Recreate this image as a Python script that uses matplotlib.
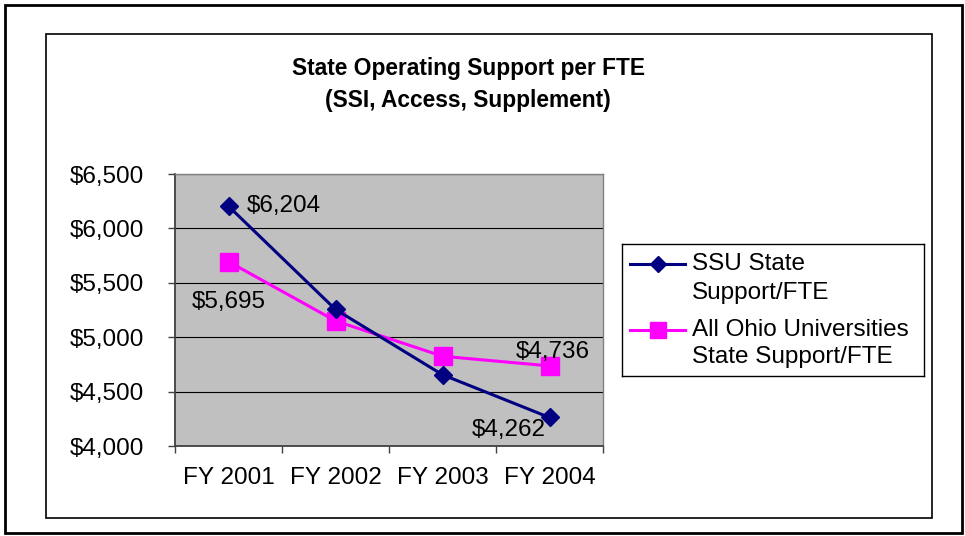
import matplotlib
matplotlib.use('Agg')
import matplotlib.pyplot as plt
from matplotlib.patches import Rectangle
from matplotlib.lines import Line2D

plt.rcParams['font.family'] = ['Liberation Sans', 'DejaVu Sans']

# data
years = ['FY 2001', 'FY 2002', 'FY 2003', 'FY 2004']
ssu = [6204, 5255, 4655, 4262]
ohio = [5695, 5150, 4825, 4736]
ssu_name = ['SSU State', 'Support/FTE']
ohio_name = ['All Ohio Universities', 'State Support/FTE']
yticks = [4000, 4500, 5000, 5500, 6000, 6500]

NAVY = '#000080'
MAGENTA = '#FF00FF'
W, H = 965, 536
FS = 17.5

fig = plt.figure(figsize=(W / 100, H / 100), dpi=100)

def fx(px):
    return px / W

def fy(py):
    return 1 - py / H

# borders
fig.patches.append(Rectangle((fx(5), fy(533)), fx(957), 528 / H, transform=fig.transFigure,
                             fill=False, ec='#000000', lw=2.0))
fig.patches.append(Rectangle((fx(46), fy(518)), fx(886), 484 / H, transform=fig.transFigure,
                             fill=False, ec='#000000', lw=1.2))

ax = fig.add_axes([fx(175), fy(446), fx(428), 272 / H])
ax.set_facecolor('#C0C0C0')
x = list(range(len(years)))
ax.plot(x, ssu, color=NAVY, lw=2.2, marker='D', ms=9.5, mfc=NAVY, mec=NAVY, zorder=4)
ax.plot(x, ohio, color=MAGENTA, lw=2.2, marker='s', ms=12.5, mfc=MAGENTA, mec=MAGENTA, zorder=3)

ax.set_xlim(-0.5, len(years) - 0.5)
ax.set_ylim(4000, 6500)
ax.set_yticks(yticks)
ax.set_yticklabels(['${:,}'.format(v) for v in yticks], fontsize=FS)
ax.set_xticks([i - 0.5 for i in range(len(years) + 1)])
ax.set_xticklabels([])
ax.set_xticks(x, minor=True)
ax.set_xticklabels(years, minor=True, fontsize=FS)
ax.tick_params(axis='x', which='major', direction='out', length=5, width=1, color='#404040')
ax.tick_params(axis='x', which='minor', length=0, pad=15)
ax.tick_params(axis='y', direction='out', length=5, width=1, color='#404040', pad=17)
ax.yaxis.grid(True, color='#000000', lw=0.8)
ax.set_axisbelow(True)
for s in ['left', 'bottom']:
    ax.spines[s].set_color('#404040')
    ax.spines[s].set_linewidth(1.3)
for s in ['top', 'right']:
    ax.spines[s].set_color('#808080')
    ax.spines[s].set_linewidth(1.0)

# data labels
lab = dict(fontsize=FS, textcoords='offset points', va='center')
ax.annotate('${:,}'.format(ssu[0]), (x[0], ssu[0]), xytext=(13, 0), ha='left', **lab)
ax.annotate('${:,}'.format(ohio[0]), (x[0], ohio[0]), xytext=(0, -29), ha='center', **lab)
ax.annotate('${:,}'.format(ohio[3]), (x[3], ohio[3]), xytext=(2, 10), ha='center', **lab)
ax.annotate('${:,}'.format(ssu[3]), (x[3], ssu[3]), xytext=(-29, -9), ha='center', **lab)

# title
fig.text(fx(468), fy(68), 'State Operating Support per FTE', ha='center', va='center',
         fontsize=16.4, fontweight='bold')
fig.text(fx(468), fy(100), '(SSI, Access, Supplement)', ha='center', va='center',
         fontsize=16.4, fontweight='bold')

# legend
lg = fig.add_axes([fx(622), fy(376), fx(302), 132 / H])
lg.set_xlim(0, 302)
lg.set_ylim(132, 0)
lg.set_xticks([])
lg.set_yticks([])
for s in lg.spines.values():
    s.set_linewidth(1.0)
    s.set_color('#000000')
lg.add_line(Line2D([8, 63], [20, 20], color=NAVY, lw=2.2))
lg.plot([35.5], [20], marker='D', ms=8.5, color=NAVY)
lg.add_line(Line2D([8, 63], [86, 86], color=MAGENTA, lw=2.2))
lg.plot([35.5], [86], marker='s', ms=11, color=MAGENTA)
lg.text(70, 20, ssu_name[0], fontsize=FS, va='center')
lg.text(70, 49, ssu_name[1], fontsize=FS, va='center')
lg.text(70, 86, ohio_name[0], fontsize=FS, va='center')
lg.text(70, 113, ohio_name[1], fontsize=FS, va='center')

fig.savefig('out.png', dpi=100)
